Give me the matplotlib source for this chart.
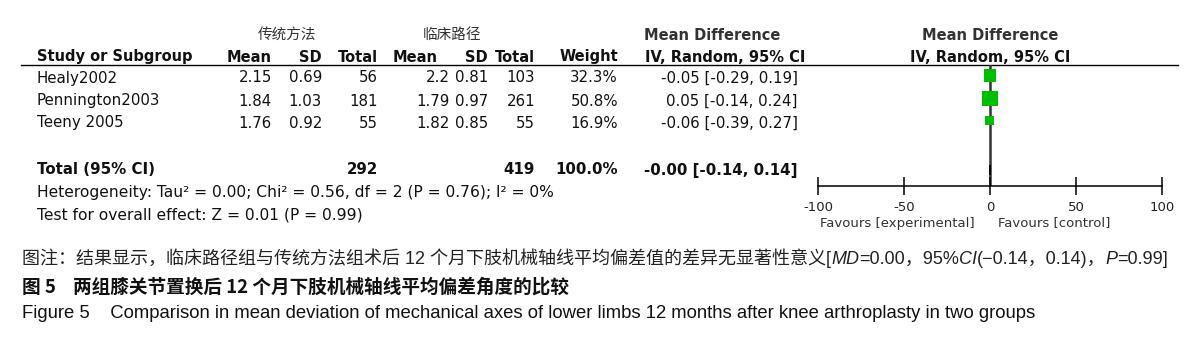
import matplotlib
matplotlib.use("Agg")
import matplotlib.pyplot as plt
import numpy as np

plt.rcParams["font.family"] = ["DejaVu Sans"]

# dados do forest plot
studies = ["Healy2002", "Pennington2003", "Teeny 2005"]
exp_mean = [2.15, 1.84, 1.76]
exp_sd = [0.69, 1.03, 0.92]
exp_n = [56, 181, 55]
ctl_mean = [2.2, 1.79, 1.82]
ctl_sd = [0.81, 0.97, 0.85]
ctl_n = [103, 261, 55]
weights = [32.3, 50.8, 16.9]
md = [-0.05, 0.05, -0.06]
ci_lo = [-0.29, -0.14, -0.39]
ci_hi = [0.19, 0.24, 0.27]
total_exp_n = 292
total_ctl_n = 419
total_weight = 100.0
total_md = -0.00
total_lo = -0.14
total_hi = 0.14
xticks = [-100, -50, 0, 50, 100]
group_labels = ["传统方法", "临床路径"]
heterogeneity = "Heterogeneity: Tau² = 0.00; Chi² = 0.56, df = 2 (P = 0.76); I² = 0%"
overall = "Test for overall effect: Z = 0.01 (P = 0.99)"
favours = ["Favours [experimental]", "Favours [control]"]

W, H = 1190, 342
fig = plt.figure(figsize=(W / 100, H / 100), dpi=100)
ax = fig.add_axes([0, 0, 1, 1])
ax.set_xlim(0, W)
ax.set_ylim(H, 0)
ax.axis("off")

# layout (pixels)
row_y = [78, 101, 123]
total_y = 170
col_right = [272, 322, 378, 450, 488, 535, 618, 798]
hdr_right = [272, 322, 378, 438, 488, 535, 618]
fs = 10.8
fs_h = 10.5
dark = "#111111"

# cabeçalhos
ax.text(287, 35, group_labels[0], ha="center", va="center", fontsize=10.5,
        family=["Noto Sans CJK SC"], color="#333333", style="italic")
ax.text(452, 35, group_labels[1], ha="center", va="center", fontsize=10.5,
        family=["Noto Sans CJK SC"], color="#333333", style="italic")
ax.text(644, 35, "Mean Difference", ha="left", va="center", fontsize=fs_h,
        weight="bold", color="#333333")
ax.text(990, 35, "Mean Difference", ha="center", va="center", fontsize=fs_h,
        weight="bold", color="#333333")
ax.text(37, 57, "Study or Subgroup", ha="left", va="center", fontsize=fs_h,
        weight="bold", color=dark)
for lab, xr in zip(["Mean", "SD", "Total", "Mean", "SD", "Total", "Weight"], hdr_right):
    ax.text(xr, 57, lab, ha="right", va="center", fontsize=fs_h, weight="bold", color=dark)
ax.text(645, 57, "IV, Random, 95% CI", ha="left", va="center", fontsize=fs_h,
        weight="bold", color=dark)
ax.text(990, 57, "IV, Random, 95% CI", ha="center", va="center", fontsize=fs_h,
        weight="bold", color=dark)
ax.axhline(65, xmin=21 / W, xmax=1178 / W, color="black", lw=1)

# linhas dos estudos
for i, name in enumerate(studies):
    y = row_y[i]
    ax.text(37, y, name, ha="left", va="center", fontsize=fs, color=dark)
    vals = [f"{exp_mean[i]}", f"{exp_sd[i]}", f"{exp_n[i]}",
            f"{ctl_mean[i]}", f"{ctl_sd[i]}", f"{ctl_n[i]}",
            f"{weights[i]:.1f}%",
            f"{md[i]:.2f} [{ci_lo[i]:.2f}, {ci_hi[i]:.2f}]"]
    for v, xr in zip(vals, col_right):
        ax.text(xr, y, v, ha="right", va="center", fontsize=fs, color=dark)

# total
ax.text(37, total_y, "Total (95% CI)", ha="left", va="center", fontsize=fs,
        weight="bold", color=dark)
ax.text(col_right[2], total_y, f"{total_exp_n}", ha="right", va="center",
        fontsize=fs, weight="bold", color=dark)
ax.text(col_right[5], total_y, f"{total_ctl_n}", ha="right", va="center",
        fontsize=fs, weight="bold", color=dark)
ax.text(col_right[6], total_y, f"{total_weight:.1f}%", ha="right", va="center",
        fontsize=fs, weight="bold", color=dark)
ax.text(col_right[7], total_y, f"{total_md:.2f} [{total_lo:.2f}, {total_hi:.2f}]",
        ha="right", va="center", fontsize=fs, weight="bold", color=dark)
ax.text(37, 193, heterogeneity, ha="left", va="center", fontsize=11.2, color=dark)
ax.text(37, 215, overall, ha="left", va="center", fontsize=11.2, color=dark)

# painel gráfico
x0, x1, ytop, ybot = 818, 1162, 65, 186
fax = fig.add_axes([x0 / W, 1 - ybot / H, (x1 - x0) / W, (ybot - ytop) / H])
fax.set_xlim(-100, 100)
fax.set_ylim(ybot, ytop)
fax.patch.set_alpha(0)
for s in ["top", "left", "right"]:
    fax.spines[s].set_visible(False)
fax.spines["bottom"].set_linewidth(1.1)
fax.set_yticks([])
fax.set_xticks(xticks)
fax.set_xticklabels([str(t) for t in xticks])
fax.tick_params(axis="x", direction="inout", length=13, width=1.1,
                labelsize=9.5, pad=4, labelcolor="#222222")
fax.axvline(0, color="#333333", lw=1.8, zorder=1)

sq_y = [y - 2.5 for y in row_y]
sizes_pt = [2.2 * np.sqrt(w) * 0.72 for w in weights]
fax.hlines(sq_y, ci_lo, ci_hi, color="black", lw=1, zorder=2)
fax.scatter(md, sq_y, s=[sp ** 2 for sp in sizes_pt], marker="s",
            color="#00bf00", edgecolor="none", zorder=3, clip_on=False)
fax.fill([total_lo, total_md, total_hi, total_md],
         [total_y, total_y - 5, total_y, total_y + 5], color="black", zorder=2)

ax.text(975, 223, favours[0], ha="right", va="center", fontsize=9.5, color="#333333")
ax.text(998, 223, favours[1], ha="left", va="center", fontsize=9.5, color="#333333")

# legendas
cap_family = ["Liberation Sans", "Noto Sans CJK SC"]
it_family = ["Liberation Sans"]
pieces = [
    ("图注：结果显示，临床路径组与传统方法组术后 12 个月下肢机械轴线平均偏差值的差异无显著性意义[", "normal"),
    ("MD", "italic"),
    ("=0.00，95%", "normal"),
    ("CI", "italic"),
    ("(−0.14，0.14)，", "normal"),
    ("P", "italic"),
    ("=0.99]", "normal"),
]
cap_fs = 13.0
prev = ax.text(22, 258, pieces[0][0], ha="left", va="center", fontsize=cap_fs,
               family=cap_family, color="#222222")
for txt, st in pieces[1:]:
    prev = ax.annotate(txt, xy=(1, 0), xycoords=prev, ha="left", va="bottom",
                       fontsize=cap_fs, style=st, color="#222222",
                       family=it_family if st == "italic" else cap_family)

ax.text(22, 287, "图 5    两组膝关节置换后 12 个月下肢机械轴线平均偏差角度的比较",
        ha="left", va="center", fontsize=13.4, weight="bold",
        family=["Noto Sans CJK SC"], color="#111111")
ax.text(22, 314, "Figure 5    Comparison in mean deviation of mechanical axes of lower limbs "
        "12 months after knee arthroplasty in two groups",
        ha="left", va="center", fontsize=13.3, family=["Liberation Sans"], color="#111111")

fig.savefig("out.png", dpi=100)
